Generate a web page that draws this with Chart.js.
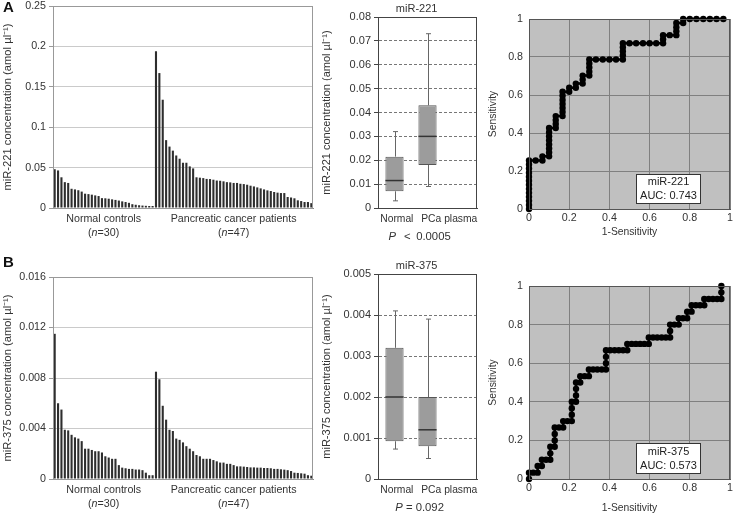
<!DOCTYPE html>
<html>
<head>
<meta charset="utf-8">
<script src="https://cdn.jsdelivr.net/npm/chart.js@4.4.0/dist/chart.umd.min.js"></script>
<style>
  body { margin: 0; background: #fff; }
  #wrap { position: relative; width: 734px; height: 514px; overflow: hidden; background: #fff; }
  canvas { position: absolute; }
  .tag { position: absolute; font: bold 15px "Liberation Sans", Arial, sans-serif; color: #111; }
</style>
</head>
<body>
<div id="wrap">
  <canvas id="barA" style="left:0;top:0" width="320" height="240"></canvas>
  <canvas id="boxA" style="left:320px;top:0" width="160" height="240"></canvas>
  <canvas id="rocA" style="left:480px;top:0" width="254" height="240"></canvas>
  <canvas id="barB" style="left:0;top:250px" width="320" height="264"></canvas>
  <canvas id="boxB" style="left:320px;top:250px" width="160" height="264"></canvas>
  <canvas id="rocB" style="left:480px;top:250px" width="254" height="264"></canvas>
  <div class="tag" style="left:3px;top:-2px">A</div>
  <div class="tag" style="left:3px;top:253px">B</div>
</div>
<script>
const FONT = '"Liberation Sans", Arial, Helvetica, sans-serif';

// ---- miR-221 per-sample concentrations (sorted) ----
const normal221 = [0.048, 0.0465, 0.038, 0.032, 0.031, 0.0238, 0.023, 0.022, 0.0203, 0.0177, 0.0172, 0.0165, 0.0156, 0.0148,
  0.0122, 0.012, 0.0115, 0.0107, 0.01, 0.0092, 0.0082, 0.0074, 0.0064, 0.0047, 0.004, 0.0034, 0.003, 0.0027, 0.0025, 0.0025];
const cancer221 = [0.194, 0.167, 0.134, 0.084, 0.076, 0.071, 0.065, 0.061, 0.056, 0.056, 0.0515, 0.049, 0.038, 0.0375, 0.037,
  0.036, 0.0358, 0.035, 0.034, 0.0337, 0.033, 0.032, 0.0317, 0.031, 0.031, 0.030, 0.0296, 0.0288, 0.0276, 0.0267, 0.0255,
  0.0243, 0.023, 0.0218, 0.021, 0.0198, 0.019, 0.0185, 0.0185, 0.0136, 0.013, 0.012, 0.0095, 0.0086, 0.0074, 0.0074, 0.006];

// ---- miR-375 per-sample concentrations (sorted) ----
const normal375 = [0.0115, 0.006, 0.0055, 0.0039, 0.00385, 0.0035, 0.0033, 0.0032, 0.003, 0.0024, 0.0024, 0.0023, 0.0022,
  0.0022, 0.0021, 0.0018, 0.0017, 0.0016, 0.0016, 0.0011, 0.0009, 0.00085, 0.0008, 0.0008, 0.00075, 0.00075, 0.0007,
  0.0005, 0.0003, 0.0003];
const cancer375 = [0.0085, 0.0079, 0.0058, 0.0047, 0.0039, 0.0038, 0.0032, 0.0031, 0.0029, 0.0026, 0.0024, 0.0022, 0.0019,
  0.0018, 0.0016, 0.0016, 0.0016, 0.0015, 0.0014, 0.0013, 0.0013, 0.0012, 0.0012, 0.0011, 0.001, 0.001, 0.00098, 0.00095,
  0.00092, 0.00092, 0.0009, 0.0009, 0.00087, 0.00087, 0.00085, 0.0008, 0.0008, 0.00077, 0.00074, 0.0007, 0.00063, 0.0005,
  0.00048, 0.00045, 0.00042, 0.0003, 0.00026];

const groupNames = ['Normal controls', 'Pancreatic cancer patients'];

// ---- box plots ----
const boxCats = ['Normal', 'PCa plasma'];
const box221Min = [0.003, 0.009];
const box221Q1 = [0.007, 0.018];
const box221Med = [0.0115, 0.030];
const box221Q3 = [0.0215, 0.043];
const box221Max = [0.032, 0.073];
const box375Min = [0.00073, 0.0005];
const box375Q1 = [0.00092, 0.0008];
const box375Med = [0.002, 0.0012];
const box375Q3 = [0.0032, 0.002];
const box375Max = [0.0041, 0.0039];

// ---- ROC curves ----
const rocAx = [0, 0, 0, 0, 0, 0, 0, 0, 0, 0, 0, 0, 0, 0.033, 0.067, 0.067, 0.1, 0.1, 0.1, 0.1, 0.1, 0.1, 0.1, 0.1,
  0.133, 0.133, 0.133, 0.133, 0.167, 0.167, 0.167, 0.167, 0.167, 0.167, 0.167, 0.2, 0.2, 0.233, 0.233, 0.267, 0.267, 0.267,
  0.3, 0.3, 0.3, 0.3, 0.3, 0.333, 0.367, 0.4, 0.433, 0.467, 0.467, 0.467, 0.467, 0.467, 0.5, 0.533, 0.567, 0.6, 0.633,
  0.667, 0.667, 0.667, 0.7, 0.733, 0.733, 0.733, 0.733, 0.767, 0.767, 0.8, 0.833, 0.867, 0.9, 0.933, 0.967];
const rocAy = [0, 0.021, 0.043, 0.064, 0.085, 0.106, 0.128, 0.149, 0.170, 0.191, 0.213, 0.234, 0.255, 0.255, 0.255, 0.277,
  0.277, 0.298, 0.319, 0.340, 0.362, 0.383, 0.404, 0.426, 0.426, 0.447, 0.468, 0.489, 0.489, 0.511, 0.532, 0.553, 0.574,
  0.596, 0.617, 0.617, 0.638, 0.638, 0.660, 0.660, 0.681, 0.702, 0.702, 0.723, 0.745, 0.766, 0.787, 0.787, 0.787, 0.787,
  0.787, 0.787, 0.809, 0.830, 0.851, 0.872, 0.872, 0.872, 0.872, 0.872, 0.872, 0.872, 0.894, 0.915, 0.915, 0.915, 0.936,
  0.957, 0.979, 0.979, 1, 1, 1, 1, 1, 1, 1];
const rocBx = [0, 0, 0.021, 0.043, 0.043, 0.064, 0.064, 0.085, 0.106, 0.106, 0.106, 0.128, 0.128, 0.128, 0.128, 0.149,
  0.170, 0.170, 0.191, 0.213, 0.213, 0.213, 0.213, 0.234, 0.234, 0.234, 0.234, 0.255, 0.255, 0.277, 0.298, 0.298, 0.319,
  0.340, 0.362, 0.383, 0.383, 0.383, 0.383, 0.404, 0.426, 0.447, 0.468, 0.489, 0.489, 0.511, 0.532, 0.553, 0.574, 0.596,
  0.596, 0.617, 0.638, 0.660, 0.681, 0.702, 0.702, 0.702, 0.723, 0.745, 0.745, 0.766, 0.787, 0.787, 0.809, 0.809, 0.830,
  0.851, 0.872, 0.872, 0.894, 0.915, 0.936, 0.957, 0.957, 0.957];
const rocBy = [0, 0.033, 0.033, 0.033, 0.067, 0.067, 0.1, 0.1, 0.1, 0.133, 0.167, 0.167, 0.2, 0.233, 0.267, 0.267, 0.267,
  0.3, 0.3, 0.3, 0.333, 0.367, 0.4, 0.4, 0.433, 0.467, 0.5, 0.5, 0.533, 0.533, 0.533, 0.567, 0.567, 0.567, 0.567, 0.567,
  0.6, 0.633, 0.667, 0.667, 0.667, 0.667, 0.667, 0.667, 0.7, 0.7, 0.7, 0.7, 0.7, 0.7, 0.733, 0.733, 0.733, 0.733, 0.733,
  0.733, 0.767, 0.8, 0.8, 0.8, 0.833, 0.833, 0.833, 0.867, 0.867, 0.9, 0.9, 0.9, 0.9, 0.933, 0.933, 0.933, 0.933, 0.933,
  0.967, 1];
const rocTicks = [0, 0.2, 0.4, 0.6, 0.8, 1];

Chart.defaults.font.family = FONT;
Chart.defaults.color = '#333';
Chart.defaults.animation = false;
Chart.defaults.responsive = false;
Chart.defaults.devicePixelRatio = 1;
Chart.defaults.plugins.legend.display = false;
Chart.defaults.plugins.tooltip.enabled = false;

function fixY(w) { return s => { s.width = w; s.paddingTop = 0; s.paddingBottom = 0; }; }
function fixX(h) { return s => { s.height = h; s.paddingLeft = 0; s.paddingRight = 0; }; }
const plain = v => String(parseFloat(Number(v).toFixed(6)));

// draw a line of text made of plain / italic pieces, centred on cx
function drawParts(ctx, parts, cx, y, size) {
  let total = 0;
  parts.forEach(p => { ctx.font = (p[1] ? 'italic ' : '') + size + 'px ' + FONT; total += ctx.measureText(p[0]).width; });
  let x = cx - total / 2;
  ctx.textAlign = 'left';
  ctx.textBaseline = 'middle';
  parts.forEach(p => {
    ctx.font = (p[1] ? 'italic ' : '') + size + 'px ' + FONT;
    ctx.fillText(p[0], x, y);
    x += ctx.measureText(p[0]).width;
  });
}

const framePlugin = {
  id: 'frame',
  beforeDraw(chart, args, opts) {
    if (!opts.fill) return;
    const a = chart.chartArea, ctx = chart.ctx;
    ctx.save();
    ctx.fillStyle = opts.fill;
    ctx.fillRect(a.left, a.top, a.right - a.left, a.bottom - a.top);
    ctx.restore();
  },
  afterDraw(chart, args, opts) {
    if (!opts.color) return;
    const a = chart.chartArea, ctx = chart.ctx;
    ctx.save();
    ctx.strokeStyle = opts.color;
    ctx.lineWidth = 1;
    ctx.strokeRect(a.left + 0.5, a.top + 0.5, a.right - a.left - 1, a.bottom - a.top);
    ctx.restore();
  }
};

const groupPlugin = {
  id: 'groups',
  afterDraw(chart, args, opts) {
    if (!opts.sizes) return;
    const x = chart.scales.x, a = chart.chartArea, ctx = chart.ctx;
    ctx.save();
    ctx.fillStyle = '#333';
    let start = 0;
    opts.sizes.forEach((n, g) => {
      const cx = (x.getPixelForValue(start) + x.getPixelForValue(start + n - 1)) / 2;
      drawParts(ctx, [[opts.names[g], false]], cx, a.bottom + 11, 10.7);
      drawParts(ctx, [['(', false], ['n', true], ['=' + n + ')', false]], cx, a.bottom + 25, 10.7);
      start += n;
    });
    ctx.restore();
  }
};

const boxPlugin = {
  id: 'boxes',
  afterDatasetsDraw(chart, args, opts) {
    if (!opts.min) return;
    const y = chart.scales.y, a = chart.chartArea, ctx = chart.ctx;
    const bars = chart.getDatasetMeta(0).data;
    ctx.save();
    bars.forEach((b, i) => {
      const cx = Math.round(b.x) + 0.5, half = b.width / 2;
      const yMin = y.getPixelForValue(opts.min[i]), yMax = y.getPixelForValue(opts.max[i]);
      const yQ1 = y.getPixelForValue(opts.q1[i]), yQ3 = y.getPixelForValue(opts.q3[i]);
      ctx.strokeStyle = '#666';
      ctx.lineWidth = 1;
      ctx.beginPath();
      ctx.moveTo(cx, yQ3); ctx.lineTo(cx, yMax);
      ctx.moveTo(cx - 2.5, yMax); ctx.lineTo(cx + 2.5, yMax);
      ctx.moveTo(cx, yQ1); ctx.lineTo(cx, yMin);
      ctx.moveTo(cx - 2.5, yMin); ctx.lineTo(cx + 2.5, yMin);
      ctx.stroke();
      const yMed = y.getPixelForValue(opts.med[i]);
      ctx.strokeStyle = '#333';
      ctx.lineWidth = 1.5;
      ctx.beginPath();
      ctx.moveTo(b.x - half, yMed); ctx.lineTo(b.x + half, yMed);
      ctx.stroke();
    });
    ctx.fillStyle = '#333';
    const w = a.right - a.left;
    opts.labels.forEach((t, i) => drawParts(ctx, [[t, false]], a.left + w * opts.labelAt[i], a.bottom + 11, 10.3));
    drawParts(ctx, [[opts.title, false]], a.left + w * 0.39, a.top - 8.5, 11);
    drawParts(ctx, opts.pText, a.left + w * 0.42, a.bottom + 28.5, 11.3);
    ctx.restore();
  }
};

const aucPlugin = {
  id: 'auc',
  afterDraw(chart, args, opts) {
    if (!opts.lines) return;
    const x = chart.scales.x, y = chart.scales.y, ctx = chart.ctx;
    const l = Math.round(x.getPixelForValue(opts.x0)) + 0.5, r = Math.round(x.getPixelForValue(opts.x1)) + 0.5;
    const t = Math.round(y.getPixelForValue(opts.y1)) + 0.5, b = Math.round(y.getPixelForValue(opts.y0)) + 0.5;
    ctx.save();
    ctx.fillStyle = '#fff';
    ctx.fillRect(l, t, r - l, b - t);
    ctx.strokeStyle = '#333';
    ctx.lineWidth = 1;
    ctx.strokeRect(l, t, r - l, b - t);
    ctx.fillStyle = '#222';
    const mid = (t + b) / 2;
    drawParts(ctx, [[opts.lines[0], false]], (l + r) / 2, mid - 7, 11);
    drawParts(ctx, [[opts.lines[1], false]], (l + r) / 2, mid + 7, 11);
    ctx.restore();
  }
};

Chart.register(framePlugin, groupPlugin, boxPlugin, aucPlugin);

function barChart(id, normal, cancer, yMax, yStep, yTitle, top, xH) {
  const values = normal.concat(cancer);
  const labels = values.map((v, i) => i < normal.length ? 'N' + (i + 1) : 'P' + (i - normal.length + 1));
  return new Chart(document.getElementById(id), {
    type: 'bar',
    data: {
      labels: labels,
      datasets: [{ data: values, backgroundColor: '#2e2e2e', barPercentage: 0.62, categoryPercentage: 1 }]
    },
    options: {
      layout: { padding: { top: top, right: 7, left: 0, bottom: 0 } },
      scales: {
        x: { grid: { display: false }, ticks: { display: false }, border: { color: '#888' }, afterFit: fixX(xH) },
        y: {
          min: 0, max: yMax,
          ticks: { stepSize: yStep, font: { size: 10.7 }, padding: 3, color: '#333', callback: plain },
          grid: { color: '#cacaca', tickLength: 4, tickColor: '#999' },
          border: { color: '#999' },
          title: { display: true, text: yTitle, font: { size: 11.2 }, color: '#333', padding: { top: 1.5, bottom: 0 } },
          afterFit: fixY(53)
        }
      },
      plugins: { frame: { color: '#999' }, groups: { sizes: [normal.length, cancer.length], names: groupNames } }
    }
  });
}

function boxChart(id, mins, q1, med, q3, maxs, yMax, yStep, yTitle, title, pText, top, xH) {
  return new Chart(document.getElementById(id), {
    type: 'bar',
    data: {
      labels: boxCats.concat(['']),
      datasets: [{
        data: q1.map((v, i) => [v, q3[i]]),
        backgroundColor: '#9c9c9c', borderColor: '#555', borderWidth: 1, borderSkipped: false,
        barPercentage: 0.55, categoryPercentage: 1
      }]
    },
    options: {
      layout: { padding: { top: top, right: 3, left: 0, bottom: 0 } },
      scales: {
        x: { grid: { display: false }, ticks: { display: false }, border: { color: '#444' }, afterFit: fixX(xH) },
        y: {
          min: 0, max: yMax,
          ticks: { stepSize: yStep, font: { size: 11 }, padding: 3, color: '#333', callback: plain },
          grid: { color: '#777', tickLength: 4, tickColor: '#444' },
          border: { color: '#444', dash: [3, 2] },
          title: { display: true, text: yTitle, font: { size: 11 }, color: '#333', padding: { top: 0.5, bottom: 0 } },
          afterFit: fixY(58)
        }
      },
      plugins: {
        frame: { color: '#444' },
        boxes: { min: mins, q1: q1, med: med, q3: q3, max: maxs, labels: boxCats, labelAt: [0.19, 0.72], title: title, pText: pText }
      }
    }
  });
}

function rocChart(id, xs, ys, name, auc, top, xH, titlePad) {
  return new Chart(document.getElementById(id), {
    type: 'scatter',
    data: {
      datasets: [{
        data: xs.map((v, i) => ({ x: v, y: ys[i] })),
        showLine: true, borderColor: '#000', borderWidth: 2.5,
        pointRadius: 3.2, pointBackgroundColor: '#000', pointBorderWidth: 0, clip: 6
      }]
    },
    options: {
      layout: { padding: { top: top, right: 3, left: 0, bottom: 0 } },
      scales: {
        x: {
          type: 'linear', min: 0, max: 1,
          afterBuildTicks: s => { s.ticks = rocTicks.map(v => ({ value: v })); },
          ticks: { font: { size: 10.7 }, padding: 3, color: '#333', callback: plain },
          grid: { color: '#808080', drawTicks: false },
          border: { color: '#555' },
          title: { display: true, text: '1-Sensitivity', font: { size: 10.3 }, color: '#333', padding: { top: 0, bottom: titlePad } },
          afterFit: fixX(xH)
        },
        y: {
          min: 0, max: 1,
          afterBuildTicks: s => { s.ticks = rocTicks.map(v => ({ value: v })); },
          ticks: { font: { size: 10.7 }, padding: 6, color: '#333', callback: plain },
          grid: { color: '#808080', drawTicks: false },
          border: { color: '#555' },
          title: { display: true, text: 'Sensitivity', font: { size: 10.3 }, color: '#333', padding: { top: 7, bottom: 0 } },
          afterFit: fixY(49)
        }
      },
      plugins: {
        frame: { fill: '#c0c0c0', color: '#555' },
        auc: { lines: [name, 'AUC: ' + auc], x0: 0.53, x1: 0.85, y0: 0.03, y1: 0.185 }
      }
    }
  });
}

barChart('barA', normal221, cancer221, 0.25, 0.05, 'miR-221 concentration (amol \u00b5l\u207b\u00b9)', 6, 32);
barChart('barB', normal375, cancer375, 0.016, 0.004, 'miR-375 concentration (amol \u00b5l\u207b\u00b9)', 27, 35);
boxChart('boxA', box221Min, box221Q1, box221Med, box221Q3, box221Max, 0.08, 0.01,
  'miR-221 concentration (amol \u00b5l\u207b\u00b9)', 'miR-221',
  [['P', true], ['\u2002\u2009<\u2002', false], ['0.0005', false]], 17, 32);
boxChart('boxB', box375Min, box375Q1, box375Med, box375Q3, box375Max, 0.005, 0.001,
  'miR-375 concentration (amol \u00b5l\u207b\u00b9)', 'miR-375', [['P', true], [' = 0.092', false]], 24, 35);
rocChart('rocA', rocAx, rocAy, 'miR-221', '0.743', 19, 31, 2);
rocChart('rocB', rocBx, rocBy, 'miR-375', '0.573', 36, 35, 0);
</script>
</body>
</html>
